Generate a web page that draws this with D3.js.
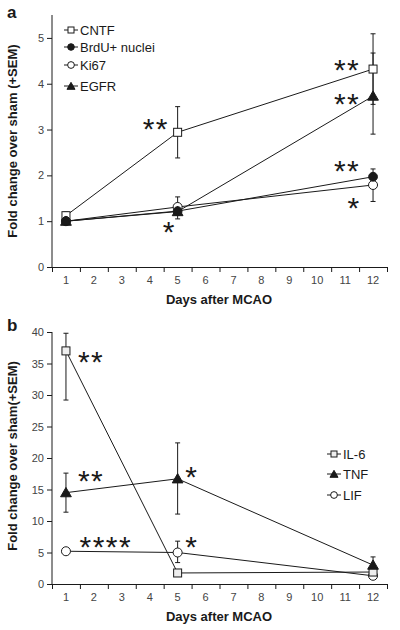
<!DOCTYPE html>
<html><head><meta charset="utf-8">
<script src="https://cdn.jsdelivr.net/npm/d3@7"></script>
<style>body{margin:0;background:#fff}svg{display:block}</style>
</head><body>
<script>
// ---------- DATA ----------
const days = [1, 5, 12];
const xTickLabels = [1,2,3,4,5,6,7,8,9,10,11,12];

// Panel a
const aNames = ["CNTF", "BrdU+ nuclei", "Ki67", "EGFR"];
const cntf = [1.12, 2.94, 4.32];   const cntfLo = [1.12, 2.38, 3.55]; const cntfHi = [1.2, 3.5, 5.09];
const brdu = [1.0, 1.22, 1.97];    const brduLo = [1.0, 1.22, 1.97];  const brduHi = [1.0, 1.22, 2.14];
const ki67 = [1.0, 1.31, 1.79];    const ki67Lo = [1.0, 1.31, 1.43];  const ki67Hi = [1.0, 1.53, 1.79];
const egfr = [1.0, 1.21, 3.73];    const egfrLo = [1.0, 1.05, 2.9];   const egfrHi = [1.0, 1.21, 4.67];
const aYTicks = [0,1,2,3,4,5];

// Panel b
const bNames = ["IL-6", "TNF", "LIF"];
const il6 = [37.0, 1.75, 1.9];  const il6Lo = [29.2, 1.75, 1.5]; const il6Hi = [39.8, 1.75, 1.9];
const tnf = [14.5, 16.7, 3.0];  const tnfLo = [11.4, 11.1, 3.0]; const tnfHi = [17.6, 22.4, 4.3];
const lif = [5.2, 5.0, 1.3];    const lifLo = [5.2, 3.4, 0.9];   const lifHi = [5.2, 6.8, 1.3];
const bYTicks = [0,5,10,15,20,25,30,35,40];

// significance marks: [text, day, value]
const aStars = [["**", 4.22, 3.17], ["**", 11.07, 4.46], ["**", 11.07, 3.72], ["**", 11.07, 2.25], ["*", 11.32, 1.43], ["*", 4.7, 0.92]];
const bStars = [["**", 1.9, 36.3], ["**", 1.9, 17.5], ["*", 5.51, 18.1], ["****", 2.43, 7.0], ["*", 5.51, 7.0]];

// ---------- DRAW ----------
const svg = d3.select("body").append("svg").attr("width", 400).attr("height", 630);
const FONT = "'Liberation Sans', Arial, sans-serif";
const ink = "#1a1a1a";

function marker(g, type, x, y, fill, k) {
  k = k || 1;
  if (type === "square") {
    const h = 4 * k;
    g.append("rect").attr("x", x-h).attr("y", y-h).attr("width", 2*h).attr("height", 2*h)
      .attr("fill", fill || "#fff").attr("stroke", ink).attr("stroke-width", 1);
  } else if (type === "dot") {
    g.append("circle").attr("cx", x).attr("cy", y).attr("r", 4.4 * k).attr("fill", ink).attr("stroke", ink);
  } else if (type === "circle") {
    g.append("circle").attr("cx", x).attr("cy", y).attr("r", 4.5 * k).attr("fill", "#fff").attr("stroke", ink).attr("stroke-width", 1);
  } else if (type === "tri") {
    g.append("path").attr("d", d3.symbol(d3.symbolTriangle, 50 * k * k)()).attr("transform", `translate(${x},${y+1})`)
      .attr("fill", ink).attr("stroke", ink);
  }
}

function panel(opts) {
  const x = d3.scaleLinear().domain([0.5, 12.5]).range([52, 387]);
  const y = d3.scaleLinear().domain(opts.yDomain).range(opts.yRange);
  const g = svg.append("g");

  // y axis
  const ya = g.append("g").attr("transform", "translate(52,0)")
    .call(d3.axisLeft(y).tickValues(opts.yTicks).tickFormat(d3.format("d")).tickSize(5).tickPadding(3).tickSizeOuter(0));
  ya.select(".domain").attr("stroke", ink).attr("d", `M0,${opts.yRange[0]}V${opts.yRange[1]}`);
  ya.selectAll(".tick line").attr("stroke", ink);
  ya.selectAll(".tick text").attr("font-family", FONT).attr("font-size", 11).attr("fill", "#444");

  // x axis
  const xa = g.append("g").attr("transform", `translate(0,${opts.yRange[0]})`)
    .call(d3.axisBottom(x).tickValues(d3.range(0.5, 13, 1)).tickSize(5).tickFormat("").tickSizeOuter(0));
  xa.select(".domain").attr("stroke", ink);
  xa.selectAll(".tick line").attr("stroke", ink);
  g.append("g").selectAll("text").data(xTickLabels).join("text")
    .attr("x", d => x(d)).attr("y", opts.yRange[0] + 17)
    .attr("text-anchor", "middle").attr("font-family", FONT).attr("font-size", 11).attr("fill", "#444")
    .text(d => d);

  // axis titles
  g.append("text").attr("x", 219).attr("y", opts.yRange[0] + 37).attr("text-anchor", "middle")
    .attr("font-family", FONT).attr("font-weight", "bold").attr("font-size", 13).attr("fill", ink)
    .text("Days after MCAO");
  g.append("text").attr("transform", `translate(17,${opts.yTitleY}) rotate(-90)`).attr("text-anchor", "middle")
    .attr("font-family", FONT).attr("font-weight", "bold").attr("font-size", 13).attr("fill", ink)
    .text(opts.yTitle);
  g.append("text").attr("x", 7).attr("y", opts.labelY).attr("font-family", FONT).attr("font-weight", "bold")
    .attr("font-size", 17).attr("fill", ink).text(opts.label);

  const line = d3.line().x((d, i) => x(days[i])).y(d => y(d));
  opts.series.forEach(s => {
    g.append("path").attr("d", line(s.v)).attr("fill", "none").attr("stroke", ink).attr("stroke-width", 1);
  });
  opts.series.forEach(s => {
    s.v.forEach((v, i) => {
      if (s.hi[i] === s.lo[i]) return;
      const cx = x(days[i]);
      g.append("line").attr("x1", cx).attr("x2", cx).attr("y1", y(s.lo[i])).attr("y2", y(s.hi[i])).attr("stroke", ink);
      [s.lo[i], s.hi[i]].forEach(e => {
        if (e === v) return;
        g.append("line").attr("x1", cx-2.5).attr("x2", cx+2.5).attr("y1", y(e)).attr("y2", y(e)).attr("stroke", ink);
      });
    });
  });
  opts.drawOrder.forEach(k => {
    const s = opts.series[k];
    s.v.forEach((v, i) => marker(g, s.m, x(days[i]), y(v), s.fill));
  });

  // stars
  g.selectAll("text.star").data(opts.stars).join("text").attr("class", "star")
    .attr("x", d => x(d[1])).attr("y", d => y(d[2]) + 17)
    .attr("text-anchor", "middle").attr("font-family", FONT).attr("font-size", 30).attr("fill", ink)
    .attr("letter-spacing", 1.5)
    .text(d => d[0]);

  // legend
  const lg = g.append("g");
  opts.series.forEach((s, i) => {
    const ly = opts.legY[i];
    lg.append("line").attr("x1", opts.legX - 7).attr("x2", opts.legX + 7).attr("y1", ly).attr("y2", ly).attr("stroke", ink);
    marker(lg, s.m, opts.legX, ly, s.fill, 0.75);
    lg.append("text").attr("x", opts.legX + 9).attr("y", ly + 4.5).attr("font-family", FONT).attr("font-size", 13)
      .attr("fill", ink).text(s.name);
  });
}

panel({
  yDomain: [0, 5.5], yRange: [267, 15], yTicks: aYTicks,
  yTitle: "Fold change over sham (+SEM)", yTitleY: 141, label: "a", labelY: 18,
  series: [
    {name: aNames[0], v: cntf, lo: cntfLo, hi: cntfHi, m: "square"},
    {name: aNames[1], v: brdu, lo: brduLo, hi: brduHi, m: "dot"},
    {name: aNames[2], v: ki67, lo: ki67Lo, hi: ki67Hi, m: "circle"},
    {name: aNames[3], v: egfr, lo: egfrLo, hi: egfrHi, m: "tri"}
  ],
  drawOrder: [0, 2, 1, 3],
  stars: aStars,
  legX: 71, legY: [30, 47, 65, 86]
});

panel({
  yDomain: [0, 40], yRange: [584, 332], yTicks: bYTicks,
  yTitle: "Fold change over sham(+SEM)", yTitleY: 456, label: "b", labelY: 331,
  series: [
    {name: bNames[0], v: il6, lo: il6Lo, hi: il6Hi, m: "square", fill: "#eee"},
    {name: bNames[1], v: tnf, lo: tnfLo, hi: tnfHi, m: "tri"},
    {name: bNames[2], v: lif, lo: lifLo, hi: lifHi, m: "circle"}
  ],
  drawOrder: [2, 0, 1],
  stars: bStars,
  legX: 334, legY: [454, 474, 495]
});
</script>
</body></html>
